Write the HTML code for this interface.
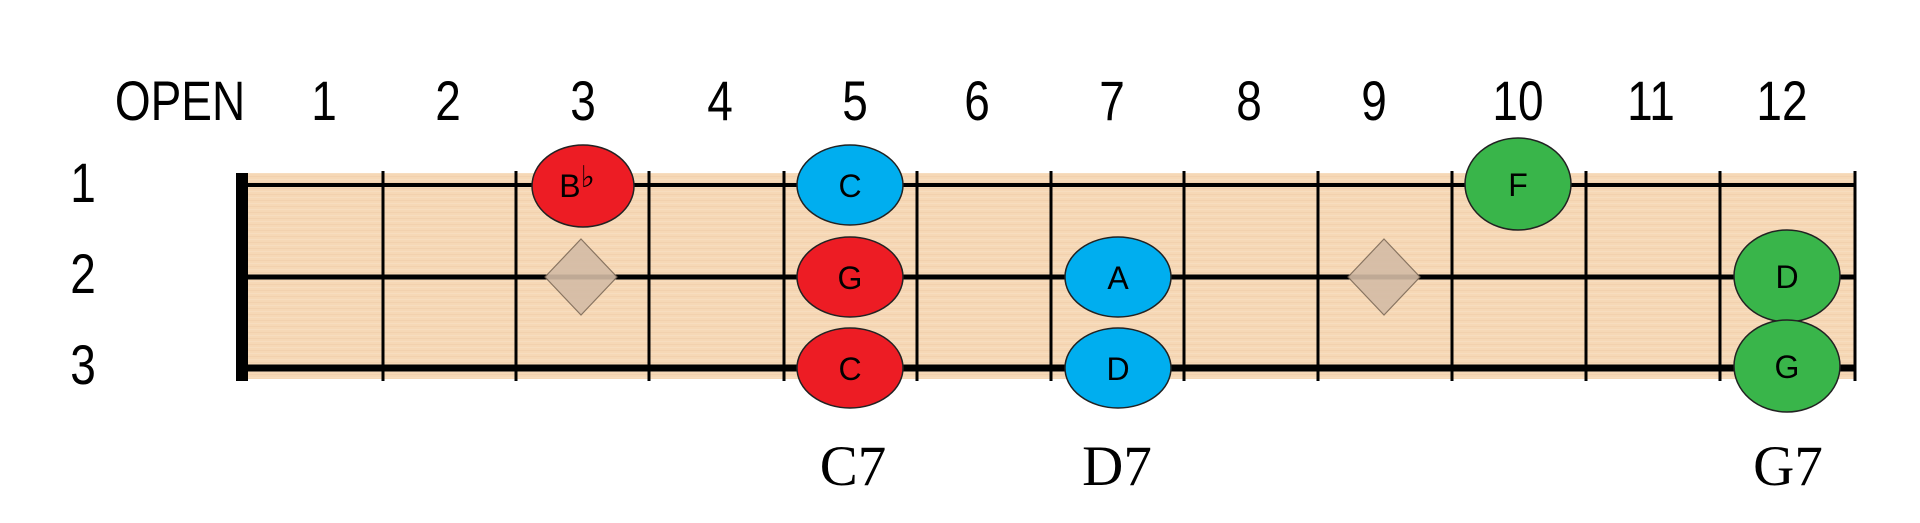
<!DOCTYPE html>
<html><head><meta charset="utf-8"><style>
html,body{margin:0;padding:0;background:#fff;}
svg{display:block}
</style></head><body>
<svg width="1920" height="523" viewBox="0 0 1920 523" xmlns="http://www.w3.org/2000/svg">
<defs>
<pattern id="wood" width="40" height="6" patternUnits="userSpaceOnUse">
<rect width="40" height="6" fill="#f6d8b6"/>
<rect y="2" width="40" height="1" fill="#f1cfab" opacity="0.7"/>
<rect y="5" width="40" height="1" fill="#f9e0c4" opacity="0.7"/>
</pattern>
</defs>
<rect x="242" y="173" width="1613" height="206" fill="url(#wood)"/>
<g stroke="#000" stroke-width="3">
<line x1="383" y1="171" x2="383" y2="381"/>
<line x1="516" y1="171" x2="516" y2="381"/>
<line x1="649" y1="171" x2="649" y2="381"/>
<line x1="784" y1="171" x2="784" y2="381"/>
<line x1="917" y1="171" x2="917" y2="381"/>
<line x1="1051" y1="171" x2="1051" y2="381"/>
<line x1="1184" y1="171" x2="1184" y2="381"/>
<line x1="1318" y1="171" x2="1318" y2="381"/>
<line x1="1452" y1="171" x2="1452" y2="381"/>
<line x1="1586" y1="171" x2="1586" y2="381"/>
<line x1="1720" y1="171" x2="1720" y2="381"/>
<line x1="1855" y1="171" x2="1855" y2="381"/>
</g>
<g stroke="#000">
<line x1="242" y1="185" x2="1855" y2="185" stroke-width="4"/>
<line x1="242" y1="277" x2="1855" y2="277" stroke-width="5"/>
<line x1="242" y1="368" x2="1855" y2="368" stroke-width="7"/>
</g>
<rect x="236" y="173" width="12" height="208" fill="#000"/>
<g fill="#d4bca6" stroke="#7d6a58" stroke-width="1.2" opacity="0.9">
<polygon points="581,239 617,277 581,315 545,277"/>
<polygon points="1384,239 1420,277 1384,315 1348,277"/>
</g>
<g font-family="'Liberation Sans',sans-serif" font-size="46" text-anchor="middle" fill="#000">
<g transform="translate(0,120) scale(1,1.2) translate(0,-120)">
<text x="180" y="120">OPEN</text>
<text x="324" y="120">1</text>
<text x="448" y="120">2</text>
<text x="583" y="120">3</text>
<text x="720" y="120">4</text>
<text x="855" y="120">5</text>
<text x="977" y="120">6</text>
<text x="1112" y="120">7</text>
<text x="1249" y="120">8</text>
<text x="1374" y="120">9</text>
<text x="1518" y="120">10</text>
<text x="1651" y="120">11</text>
<text x="1782" y="120">12</text>
</g>
<text x="83" y="202" transform="translate(0,202) scale(1,1.2) translate(0,-202)">1</text>
<text x="83" y="293" transform="translate(0,293) scale(1,1.2) translate(0,-293)">2</text>
<text x="83" y="384" transform="translate(0,384) scale(1,1.2) translate(0,-384)">3</text>
</g>
<g stroke="#222" stroke-width="1.5">
<ellipse cx="583" cy="186" rx="51" ry="41" fill="#ed1c24"/>
<ellipse cx="850" cy="185" rx="53" ry="40" fill="#00aeef"/>
<ellipse cx="850" cy="277" rx="53" ry="40" fill="#ed1c24"/>
<ellipse cx="850" cy="368" rx="53" ry="40" fill="#ed1c24"/>
<ellipse cx="1118" cy="277" rx="53" ry="40" fill="#00aeef"/>
<ellipse cx="1118" cy="368" rx="53" ry="40" fill="#00aeef"/>
<ellipse cx="1518" cy="184" rx="53" ry="46" fill="#39b54a"/>
<ellipse cx="1787" cy="276" rx="53" ry="46" fill="#39b54a"/>
<ellipse cx="1787" cy="366" rx="53" ry="46" fill="#39b54a"/>
</g>
<g font-family="'Liberation Sans',sans-serif" font-size="32" text-anchor="middle" fill="#000">
<text x="577" y="197">B<tspan font-family="'DejaVu Sans',sans-serif" font-size="30" dy="-10">♭</tspan></text>
<text x="850" y="197">C</text>
<text x="850" y="289">G</text>
<text x="850" y="380">C</text>
<text x="1118" y="289">A</text>
<text x="1118" y="380">D</text>
<text x="1518" y="196">F</text>
<text x="1787" y="288">D</text>
<text x="1787" y="378">G</text>
</g>
<g font-family="'Liberation Serif',serif" font-size="57" text-anchor="middle" fill="#000">
<text x="853" y="485">C7</text>
<text x="1117" y="485">D7</text>
<text x="1788" y="485">G7</text>
</g>
</svg>
</body></html>
